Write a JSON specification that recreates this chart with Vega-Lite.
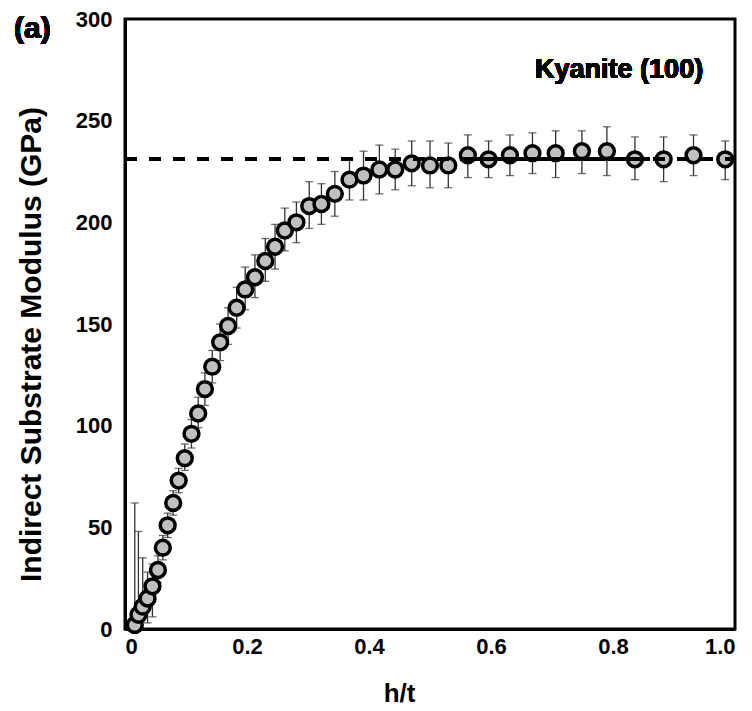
{
  "$schema": "https://vega.github.io/schema/vega-lite/v6.json",
  "width": 610,
  "height": 610,
  "autosize": "none",
  "padding": {"left": 125, "top": 19, "right": 17, "bottom": 82},
  "background": "white",
  "config": {
    "view": {"stroke": "black", "strokeWidth": 3},
    "font": "Liberation Sans",
    "axis": {
      "domainColor": "black",
      "domainWidth": 3,
      "ticks": false,
      "grid": false,
      "labelFont": "Liberation Sans",
      "labelFontWeight": "bold",
      "labelFontSize": 22,
      "labelColor": "black",
      "titleFont": "Liberation Sans",
      "titleFontWeight": "bold",
      "titleColor": "black"
    }
  },
  "datasets": {
    "pts": [
      {"ht": 0.016, "E": 2, "lo": 0, "hi": 62},
      {"ht": 0.022, "E": 7, "lo": 0, "hi": 48},
      {"ht": 0.029, "E": 11, "lo": 0, "hi": 35},
      {"ht": 0.037, "E": 15, "lo": 3, "hi": 28},
      {"ht": 0.045, "E": 21, "lo": 6, "hi": 32},
      {"ht": 0.054, "E": 29, "lo": 23, "hi": 36},
      {"ht": 0.062, "E": 40, "lo": 34, "hi": 46},
      {"ht": 0.070, "E": 51, "lo": 45, "hi": 57},
      {"ht": 0.079, "E": 62, "lo": 56, "hi": 68},
      {"ht": 0.088, "E": 73, "lo": 67, "hi": 79},
      {"ht": 0.098, "E": 84, "lo": 78, "hi": 91},
      {"ht": 0.109, "E": 96, "lo": 89, "hi": 103},
      {"ht": 0.120, "E": 106, "lo": 99, "hi": 114},
      {"ht": 0.131, "E": 118, "lo": 110, "hi": 126},
      {"ht": 0.143, "E": 129, "lo": 121, "hi": 137},
      {"ht": 0.156, "E": 141, "lo": 132, "hi": 150},
      {"ht": 0.169, "E": 149, "lo": 140, "hi": 158},
      {"ht": 0.183, "E": 158, "lo": 148, "hi": 168},
      {"ht": 0.197, "E": 167, "lo": 157, "hi": 178},
      {"ht": 0.213, "E": 173, "lo": 163, "hi": 184},
      {"ht": 0.230, "E": 181, "lo": 171, "hi": 192},
      {"ht": 0.246, "E": 188, "lo": 177, "hi": 199},
      {"ht": 0.262, "E": 196, "lo": 186, "hi": 207},
      {"ht": 0.281, "E": 200, "lo": 190, "hi": 210},
      {"ht": 0.302, "E": 208, "lo": 197, "hi": 220},
      {"ht": 0.322, "E": 209, "lo": 199, "hi": 219},
      {"ht": 0.344, "E": 214, "lo": 203, "hi": 225},
      {"ht": 0.368, "E": 221, "lo": 211, "hi": 231},
      {"ht": 0.391, "E": 223, "lo": 211, "hi": 235},
      {"ht": 0.417, "E": 226, "lo": 214, "hi": 238},
      {"ht": 0.443, "E": 226, "lo": 216, "hi": 236},
      {"ht": 0.470, "E": 229, "lo": 218, "hi": 240},
      {"ht": 0.500, "E": 228, "lo": 217, "hi": 240},
      {"ht": 0.530, "E": 228, "lo": 217, "hi": 239},
      {"ht": 0.562, "E": 233, "lo": 222, "hi": 243},
      {"ht": 0.596, "E": 231, "lo": 222, "hi": 240},
      {"ht": 0.631, "E": 233, "lo": 223, "hi": 243},
      {"ht": 0.668, "E": 234, "lo": 224, "hi": 244},
      {"ht": 0.706, "E": 234, "lo": 222, "hi": 245},
      {"ht": 0.749, "E": 235, "lo": 224, "hi": 245},
      {"ht": 0.790, "E": 235, "lo": 223, "hi": 247},
      {"ht": 0.836, "E": 231, "lo": 221, "hi": 242},
      {"ht": 0.883, "E": 231, "lo": 220, "hi": 242},
      {"ht": 0.932, "E": 233, "lo": 223, "hi": 243},
      {"ht": 0.984, "E": 231, "lo": 221, "hi": 240}
    ],
    "xticks": [{"t": 0.2}, {"t": 0.4}, {"t": 0.6}, {"t": 0.8}],
    "yticks": [{"t": 50}, {"t": 100}, {"t": 150}, {"t": 200}, {"t": 250}]
  },
  "data": {"name": "pts"},
  "encoding": {
    "x": {
      "field": "ht", "type": "quantitative",
      "scale": {"domain": [0, 1], "nice": false},
      "axis": {
        "title": "h/t",
        "titleFontSize": 26,
        "values": [0, 0.2, 0.4, 0.6, 0.8, 1.0],
        "labelExpr": "datum.value == 0 ? '0' : format(datum.value, '.1f')",
        "labelPadding": 7,
        "titleX": 274,
        "titleY": 72,
        "titleBaseline": "alphabetic"
      }
    },
    "y": {
      "field": "E", "type": "quantitative",
      "scale": {"domain": [0, 300], "nice": false},
      "axis": {
        "title": "Indirect Substrate Modulus (GPa)",
        "titleFontSize": 30,
        "values": [0, 50, 100, 150, 200, 250, 300],
        "labelPadding": 13,
        "titleX": -85,
        "titleY": 325,
        "titleBaseline": "alphabetic"
      }
    }
  },
  "layer": [
    {
      "data": {"name": "xticks"},
      "mark": {"type": "rule", "color": "black", "strokeWidth": 3.5},
      "encoding": {
        "x": {"field": "t", "type": "quantitative"},
        "y": {"datum": 0},
        "y2": {"datum": 8.4}
      }
    },
    {
      "data": {"name": "yticks"},
      "mark": {"type": "rule", "color": "black", "strokeWidth": 3.5},
      "encoding": {
        "y": {"field": "t", "type": "quantitative"},
        "x": {"datum": 0},
        "x2": {"datum": 0.028}
      }
    },
    {
      "mark": {"type": "rule", "color": "#333333", "strokeWidth": 1.3},
      "encoding": {"y": {"field": "lo", "type": "quantitative"}, "y2": {"field": "hi"}}
    },
    {
      "mark": {"type": "tick", "orient": "horizontal", "color": "#333333", "size": 8, "thickness": 1.3},
      "encoding": {"y": {"field": "hi", "type": "quantitative"}}
    },
    {
      "mark": {"type": "tick", "orient": "horizontal", "color": "#333333", "size": 8, "thickness": 1.3},
      "encoding": {"y": {"field": "lo", "type": "quantitative"}}
    },
    {
      "mark": {"type": "point", "shape": "circle", "filled": false, "fill": "#c0c0c0", "stroke": "black", "strokeWidth": 3.5, "size": 220, "opacity": 1, "fillOpacity": 1},
      "encoding": {}
    },
    {
      "mark": {"type": "rule", "color": "black", "strokeWidth": 3, "strokeDash": [12, 12]},
      "encoding": {
        "x": {"datum": 0}, "x2": {"datum": 1},
        "y": {"datum": 231}
      }
    },
    {
      "mark": {"type": "rule", "color": "black", "strokeWidth": 3},
      "encoding": {
        "x": {"datum": 0.55}, "x2": {"datum": 0.86},
        "y": {"datum": 231}
      }
    },
    {
      "mark": {"type": "text", "font": "Liberation Sans", "fontWeight": "bold", "fontSize": 27, "color": "black", "align": "center", "baseline": "middle"},
      "encoding": {"x": {"datum": 0.81}, "y": {"datum": 275}, "text": {"value": "Kyanite (100)"}}
    },
    {
      "mark": {"type": "text", "font": "Liberation Sans", "fontWeight": "bold", "fontSize": 30, "color": "black", "align": "center", "baseline": "middle"},
      "encoding": {"x": {"datum": -0.152}, "y": {"datum": 295}, "text": {"value": "(a)"}}
    }
  ]
}
